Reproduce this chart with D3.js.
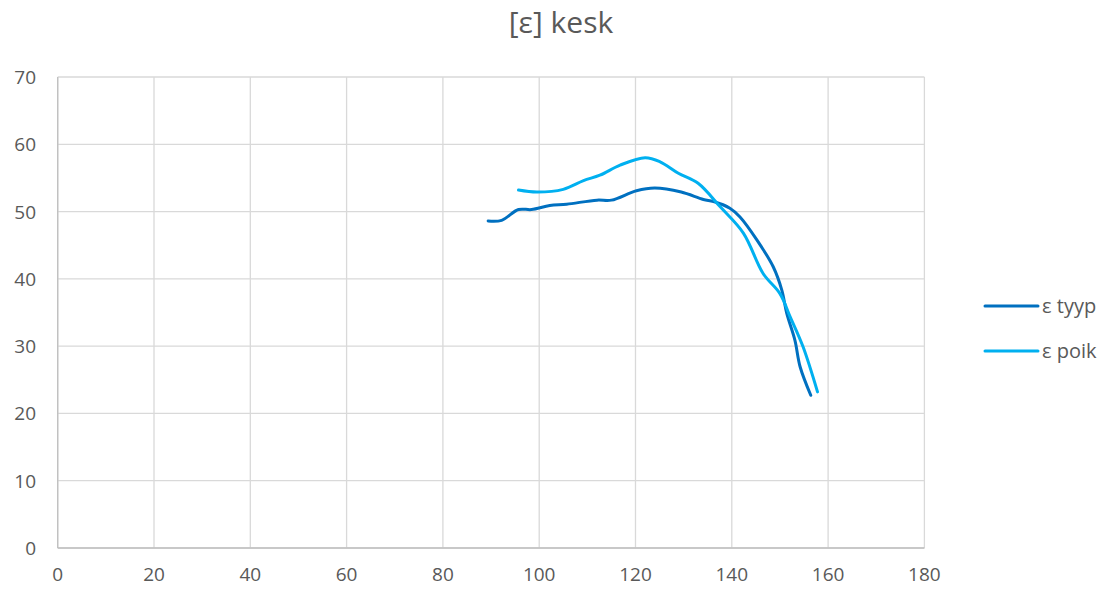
<!DOCTYPE html>
<html><head><meta charset="utf-8">
<script src="https://cdn.jsdelivr.net/npm/d3@7"></script>
<style>body{margin:0;background:#fff}svg{display:block}text{font-family:"Open Sans",sans-serif;fill:#595959}</style>
</head><body><svg id="c" width="1109" height="589"></svg>
<script>
const title = "[ε] kesk";
const xTicks = [0,20,40,60,80,100,120,140,160,180];
const yTicks = [0,10,20,30,40,50,60,70];
const tyypX = [89.4,92.2,95.7,98.4,102.2,105.7,112,115,120.2,124,129.5,134.1,136.2,139.6,141.7,145.2,148.6,150.4,151.4,153.1,154.2,156.4];
const tyypY = [48.6,48.7,50.3,50.3,50.9,51.1,51.7,51.7,53.1,53.5,52.9,51.8,51.5,50.5,49.2,45.8,41.8,38.3,34.9,30.9,26.9,22.7];
const poikX = [95.7,99.5,105,109.2,112.6,116.8,122,125.1,128.9,133,137.6,142.4,146.5,150,152.1,154.8,157.8];
const poikY = [53.2,52.9,53.3,54.6,55.4,56.9,58.0,57.4,55.7,54.2,50.7,46.8,40.8,37.8,34.4,29.9,23.2];
const seriesNames = ["ε tyyp","ε poik"];
const colors = ["#0070C0","#00B0F0"];

const svg = d3.select("#c");
const L=57.7,R=924.4,T=77,B=548;
const x = d3.scaleLinear().domain([0,180]).range([L,R]);
const y = d3.scaleLinear().domain([0,70]).range([B,T]);

svg.append("text").attr("x",561).attr("y",33).attr("text-anchor","middle").attr("font-size",30).text(title);

const g = svg.append("g");
g.selectAll(".gx").data(xTicks).join("line").attr("x1",d=>x(d)).attr("x2",d=>x(d)).attr("y1",T).attr("y2",B).attr("stroke","#d9d9d9").attr("stroke-width",1.3);
g.selectAll(".gy").data(yTicks).join("line").attr("y1",d=>y(d)).attr("y2",d=>y(d)).attr("x1",L).attr("x2",R).attr("stroke","#d9d9d9").attr("stroke-width",1.3);
g.append("line").attr("x1",L).attr("x2",R).attr("y1",B).attr("y2",B).attr("stroke","#bfbfbf").attr("stroke-width",1.3);
g.append("line").attr("x1",L).attr("x2",L).attr("y1",T).attr("y2",B).attr("stroke","#bfbfbf").attr("stroke-width",1.3);

svg.selectAll(".xl").data(xTicks).join("text").attr("x",d=>x(d)).attr("y",581).attr("text-anchor","middle").attr("font-size",19).text(d=>d);
svg.selectAll(".yl").data(yTicks).join("text").attr("x",36).attr("y",d=>y(d)+7).attr("text-anchor","end").attr("font-size",19).text(d=>d);

const line = d3.line().x(d=>x(d[0])).y(d=>y(d[1])).curve(d3.curveCatmullRom.alpha(0.5));
const data = [d3.zip(tyypX,tyypY), d3.zip(poikX,poikY)];
data.forEach((s,i)=>{
  svg.append("path").attr("d",line(s)).attr("fill","none").attr("stroke",colors[i]).attr("stroke-width",3).attr("stroke-linecap","round");
});

const lg = svg.append("g");
seriesNames.forEach((n,i)=>{
  const yy = 306 + i*45;
  lg.append("line").attr("x1",985).attr("x2",1038).attr("y1",yy).attr("y2",yy).attr("stroke",colors[i]).attr("stroke-width",3).attr("stroke-linecap","round");
  lg.append("text").attr("x",1042).attr("y",yy+7).attr("font-size",20).text(n);
});
</script></body></html>
